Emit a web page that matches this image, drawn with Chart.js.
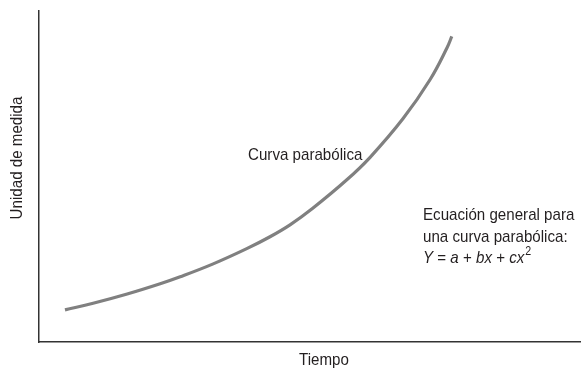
<!DOCTYPE html>
<html>
<head>
<meta charset="utf-8">
<script src="https://cdn.jsdelivr.net/npm/chart.js@4.4.1/dist/chart.umd.min.js"></script>
<style>
  html, body { margin: 0; padding: 0; background: #fff; }
  #wrap { width: 583px; height: 369px; }
</style>
</head>
<body>
<div id="wrap"><canvas id="curveChart"></canvas></div>
<script>
// puntos (escala 0-100 en ambos ejes)
const tiempo = [4.8, 10.0, 16.3, 22.4, 26.1, 32.2, 38.4, 42.7, 46.4, 50.6, 56.9, 61.2, 67.3, 72.3, 75.4, 76.3];
const unidad = [9.7, 11.7, 14.5, 17.6, 19.7, 23.6, 28.2, 31.8, 35.4, 40.4, 49.0, 55.8, 67.5, 79.3, 88.8, 92.3];

const ejeX = 'Tiempo';
const ejeY = 'Unidad de medida';
const etiquetaCurva = 'Curva parabólica';
const nota = ['Ecuación general para', 'una curva parabólica:'];

const fam = "'Liberation Sans', Arial, sans-serif";
const textColor = '#231f20';
const sx = 0.89; // letra estrecha

function texto(c, t, x, y, font, align) {
  c.save();
  c.font = font;
  c.textAlign = align || 'left';
  c.translate(x, y);
  c.scale(sx, 1);
  c.fillText(t, 0, 0);
  const w = c.measureText(t).width * sx;
  c.restore();
  return w;
}

const textos = {
  id: 'textos',
  afterDraw(chart) {
    const c = chart.ctx;
    c.save();
    c.fillStyle = textColor;
    c.textBaseline = 'middle';
    const f = '17px ' + fam;

    texto(c, etiquetaCurva, 248, 155, f);
    texto(c, nota[0], 423, 215, f);
    texto(c, nota[1], 423, 237, f);

    // Y = a + bx + cx^2
    const partes = [['Y', true], [' = ', false], ['a', true], [' + ', false], ['bx', true], [' + ', false], ['cx', true]];
    let x = 423;
    partes.forEach(p => {
      x += texto(c, p[0], x, 258, (p[1] ? 'italic ' : '') + f);
    });
    texto(c, '2', x + 1, 252, '12px ' + fam);

    texto(c, ejeX, 324, 360, f, 'center');

    c.translate(17, 158);
    c.rotate(-Math.PI / 2);
    texto(c, ejeY, 0, 0, f, 'center');
    c.restore();
  }
};

const ctx = document.getElementById('curveChart').getContext('2d');

const curveChart = new Chart(ctx, {
  type: 'line',
  data: {
    datasets: [{
      label: etiquetaCurva,
      data: tiempo.map((t, i) => ({ x: t, y: unidad[i] })),
      borderColor: '#808080',
      borderWidth: 3.2,
      pointRadius: 0,
      fill: false,
      tension: 0.4
    }]
  },
  options: {
    responsive: true,
    maintainAspectRatio: false,
    animation: false,
    layout: { padding: { left: 39, top: 11, right: 3, bottom: 27 } },
    plugins: {
      legend: { display: false },
      tooltip: { enabled: false }
    },
    scales: {
      x: {
        type: 'linear',
        min: 0,
        max: 100,
        grid: { display: false, drawTicks: false },
        ticks: { display: false },
        border: { display: true, color: '#333', width: 1.5 }
      },
      y: {
        min: 0,
        max: 100,
        grid: { display: false, drawTicks: false },
        ticks: { display: false },
        border: { display: true, color: '#333', width: 1.5 }
      }
    }
  },
  plugins: [textos]
});
</script>
</body>
</html>
